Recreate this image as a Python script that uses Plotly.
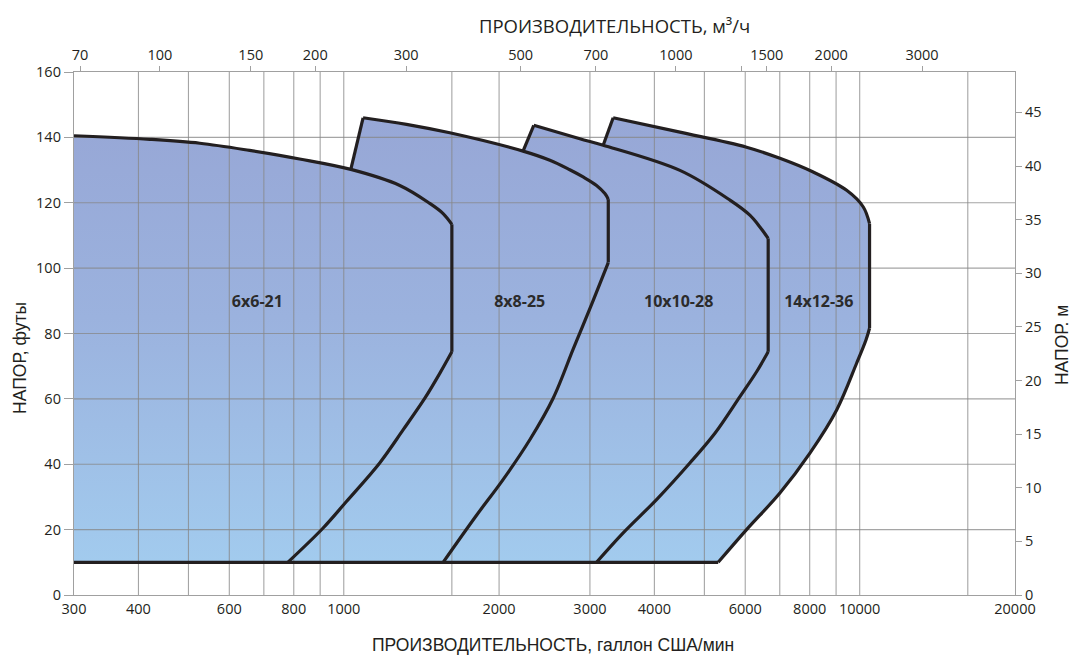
import math
import plotly.graph_objects as go

# ---------------- data (flow in US gpm, head in ft) ----------------
GPM_PER_M3H = 4.40287
FT_PER_M = 3.28084
Q_MIN, Q_MAX = 300, 20000
H_MIN, H_MAX = 0, 160
BASE_HEAD = 10

bottom_ticks = [300, 400, 600, 800, 1000, 2000, 3000, 4000, 6000, 8000, 10000, 20000]
top_ticks = [70, 100, 150, 200, 300, 500, 700, 1000, 1340, 1500, 2000, 3000]
top_labels = ["70", "100", "150", "200", "300", "500", "700", "1000", "", "1500", "2000", "3000"]
left_ticks = [0, 20, 40, 60, 80, 100, 120, 140, 160]
right_ticks = [0, 5, 10, 15, 20, 25, 30, 35, 40, 45]
grid_q = [400, 500, 600, 700, 800, 900, 1000, 1620, 2000, 3000, 4000, 5000,
          6000, 7000, 8000, 9000, 10000, 16200]
grid_h = [20, 40, 60, 80, 100, 120, 140]

# 6x6-21 : top curve, vertical limit, lower curve
s6_q = [300, 421, 526, 657, 821, 1032, 1284, 1468, 1558, 1620,
        1620, 1535, 1436, 1303, 1174, 1012, 912, 779]
s6_h = [140.5, 139.4, 138.2, 136.0, 133.4, 130.2, 125.3, 119.8, 116.7, 113.4,
        74.4, 67.8, 60.2, 50.5, 40.4, 28.6, 20.5, 10]
# 8x8-25 : left edge, top curve, vertical limit, lower curve
s8_q = [1032, 1090, 1323, 1605, 2226, 2509, 2742, 2910, 3090, 3207, 3256,
        3256, 3046, 2874, 2780, 2546, 2294, 2036, 1803, 1558]
s8_h = [130.2, 146.0, 144.0, 141.4, 135.8, 133.0, 130.1, 127.9, 125.3, 122.8, 121.1,
        101.7, 90.2, 80.5, 75.0, 60.2, 47.5, 35.3, 24.1, 10]
# 10x10-28
s10_q = [2226, 2335, 2868, 3183, 4483, 5605, 6125, 6406, 6647,
         6647, 6312, 5860, 5241, 4686, 4039, 3480, 3090]
s10_h = [135.8, 143.7, 139.6, 137.6, 129.9, 120.8, 116.2, 112.6, 109.1,
         74.4, 68.3, 60.7, 49.5, 40.4, 29.2, 19.0, 10]
# 14x12-36
s14_q = [3183, 3328, 4483, 6036, 7004, 8127, 9435, 10162, 10450,
         10450, 10284, 9864, 9023, 8008, 7004, 6036, 5318]
s14_h = [137.6, 146.0, 141.6, 137.0, 133.6, 129.4, 123.8, 118.7, 113.6,
         81.6, 78.0, 70.9, 56.6, 43.4, 31.2, 20.0, 10]

# outline pieces: (first index, last index, line shape)
s6_parts = [(0, 9, "spline"), (9, 10, "linear"), (10, 17, "spline")]
s8_parts = [(0, 1, "linear"), (1, 10, "spline"), (10, 11, "linear"), (11, 19, "spline")]
s10_parts = [(0, 1, "linear"), (1, 8, "spline"), (8, 9, "linear"), (9, 16, "spline")]
s14_parts = [(0, 1, "linear"), (1, 8, "spline"), (8, 9, "linear"), (9, 16, "spline")]

models = ["6x6-21", "8x8-25", "10x10-28", "14x12-36"]
label_q = [680, 2193, 4458, 8331]
label_h = [89.4, 89.4, 89.4, 89.4]

# ---------------- styling ----------------
LINE = "#231f20"
AXIS = "#a0a0a0"
TXT = "#231f20"
TICKFONT = dict(family="Open Sans", size=14.5, color=TXT)
grad = dict(type="vertical", start=BASE_HEAD, stop=146,
            colorscale=[[0, "#a2cbee"], [0.55, "#9bb2de"], [1, "#97a7d6"]])

fig = go.Figure()

# filled areas (all share the same gradient in data space -> seamless union)
for qx, hy in [(s6_q, s6_h), (s8_q, s8_h), (s10_q, s10_h), (s14_q, s14_h)]:
    fig.add_trace(go.Scatter(x=qx + [Q_MIN], y=hy + [BASE_HEAD], mode="lines",
                             fill="toself", fillgradient=grad, line=dict(width=0),
                             hoverinfo="skip", showlegend=False))

# grid lines drawn above the fills
gx, gy = [], []
for q in grid_q:
    gx += [q, q, None]
    gy += [H_MIN, H_MAX, None]
for h in grid_h:
    gx += [Q_MIN, Q_MAX, None]
    gy += [h, h, None]
fig.add_trace(go.Scatter(x=gx, y=gy, mode="lines",
                         line=dict(color="rgba(135,135,135,0.75)", width=1.1),
                         hoverinfo="skip", showlegend=False))

# outlines
for (qx, hy), parts in [((s6_q, s6_h), s6_parts), ((s8_q, s8_h), s8_parts),
                        ((s10_q, s10_h), s10_parts), ((s14_q, s14_h), s14_parts)]:
    for i0, i1, shp in parts:
        fig.add_trace(go.Scatter(x=qx[i0:i1 + 1], y=hy[i0:i1 + 1], mode="lines",
                                 line=dict(color=LINE, width=3.2, shape=shp, smoothing=1),
                                 hoverinfo="skip", showlegend=False))
fig.add_trace(go.Scatter(x=[Q_MIN, s14_q[-1]], y=[BASE_HEAD, BASE_HEAD], mode="lines",
                         line=dict(color=LINE, width=3.2),
                         hoverinfo="skip", showlegend=False))

fig.add_trace(go.Scatter(x=label_q, y=label_h, mode="text", text=models,
                         textfont=dict(family="Open Sans", size=16, color="#2b2b2b",
                                       weight="bold"),
                         hoverinfo="skip", showlegend=False))

# invisible traces that activate the secondary axes
fig.add_trace(go.Scatter(x=top_ticks, y=[None] * len(top_ticks), xaxis="x2", yaxis="y",
                         mode="markers", hoverinfo="skip", showlegend=False))
fig.add_trace(go.Scatter(x=[None] * len(right_ticks), y=right_ticks, xaxis="x", yaxis="y2",
                         mode="markers", hoverinfo="skip", showlegend=False))

# page body has an 8px margin -> figure is 8px smaller and margins shifted
fig.update_layout(
    width=1072, height=647,
    margin=dict(l=66, r=65, t=64, b=60),
    plot_bgcolor="white", paper_bgcolor="white",
    showlegend=False,
    xaxis=dict(type="log", range=[math.log10(Q_MIN), math.log10(Q_MAX)],
               tickvals=bottom_ticks, ticktext=[str(v) for v in bottom_ticks],
               ticks="", showgrid=False, zeroline=False,
               showline=True, linecolor=AXIS, linewidth=1.3,
               tickfont=TICKFONT),
    yaxis=dict(range=[H_MIN, H_MAX], tickvals=left_ticks,
               ticks="outside", ticklen=9, tickcolor=AXIS, tickwidth=1.2,
               showgrid=False, zeroline=False,
               showline=True, linecolor=AXIS, linewidth=1.3,
               tickfont=TICKFONT),
    xaxis2=dict(type="log", overlaying="x", side="top", anchor="y",
                range=[math.log10(Q_MIN / GPM_PER_M3H), math.log10(Q_MAX / GPM_PER_M3H)],
                tickvals=top_ticks, ticktext=top_labels,
                ticks="outside", ticklen=5, tickcolor=AXIS, tickwidth=1.2,
                showgrid=False, zeroline=False,
                showline=True, linecolor=AXIS, linewidth=1.3,
                tickfont=TICKFONT),
    yaxis2=dict(overlaying="y", side="right", anchor="x",
                range=[H_MIN / FT_PER_M, H_MAX / FT_PER_M], tickvals=right_ticks,
                ticks="outside", ticklen=6, tickcolor=AXIS, tickwidth=1.2,
                showgrid=False, zeroline=False,
                showline=True, linecolor=AXIS, linewidth=1.3,
                tickfont=TICKFONT),
    annotations=[
        dict(text="ПРОИЗВОДИТЕЛЬНОСТЬ, м³/ч", xref="paper", yref="paper",
             x=0.5745, y=1.089, xanchor="center", yanchor="middle", showarrow=False,
             font=dict(family="Open Sans", size=18.5, color=TXT)),
        dict(text="ПРОИЗВОДИТЕЛЬНОСТЬ, галлон США/мин", xref="paper", yref="paper",
             x=0.5093, y=-0.095, xanchor="center", yanchor="middle", showarrow=False,
             font=dict(family="Liberation Sans", size=17.5, color=TXT)),
        dict(text="НАПОР, футы", xref="paper", yref="paper", textangle=-90,
             x=-0.0576, y=0.453, xanchor="center", yanchor="middle", showarrow=False,
             font=dict(family="Liberation Sans", size=17.5, color=TXT)),
        dict(text="НАПОР. м", xref="paper", yref="paper", textangle=-90,
             x=1.050, y=0.478, xanchor="center", yanchor="middle", showarrow=False,
             font=dict(family="Liberation Sans", size=17.5, color=TXT)),
    ],
)

fig.write_html("out.html")
